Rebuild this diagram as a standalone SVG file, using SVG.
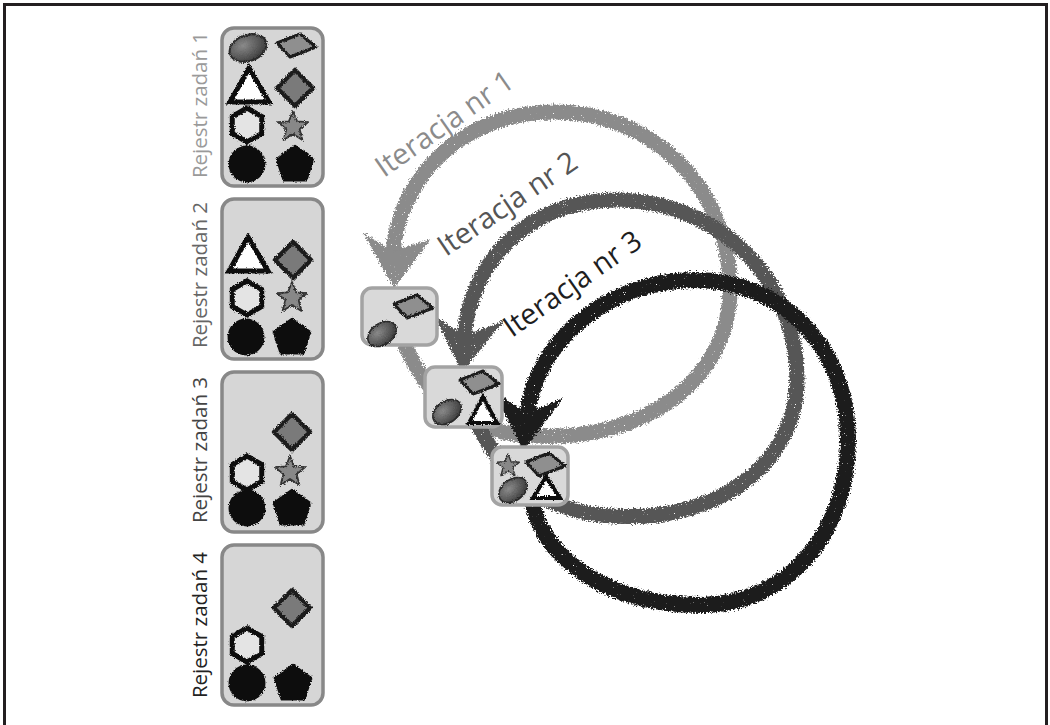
<svg xmlns="http://www.w3.org/2000/svg" width="1050" height="725" viewBox="0 0 1050 725">
<style>
.frame{fill:none;stroke:#231f20;stroke-width:3}
.bigbox{fill:#d6d6d6;stroke:#888;stroke-width:3.5}
.smallbox{fill:#d9d9d9;stroke:#a3a3a3;stroke-width:3.5}
.lbl{font-family:"Open Sans","Liberation Sans",sans-serif;font-size:20.5px;text-anchor:middle}
.it{font-family:"Open Sans","Liberation Sans",sans-serif;font-size:29px}
.arc{fill:none;stroke-linecap:round}
</style>
<defs>
<filter id="rough" filterUnits="userSpaceOnUse" x="0" y="0" width="1050" height="725">
<feTurbulence type="fractalNoise" baseFrequency="0.9" numOctaves="2" seed="3" result="n"/>
<feDisplacementMap in="SourceGraphic" in2="n" scale="3.5" xChannelSelector="R" yChannelSelector="G"/>
</filter>
<filter id="chalk" filterUnits="userSpaceOnUse" x="0" y="0" width="1050" height="725">
<feTurbulence type="fractalNoise" baseFrequency="0.6" numOctaves="2" seed="7" result="n"/>
<feDisplacementMap in="SourceGraphic" in2="n" scale="7" xChannelSelector="R" yChannelSelector="G" result="d"/>
<feTurbulence type="fractalNoise" baseFrequency="1.1" numOctaves="1" seed="2" result="n2"/>
<feColorMatrix in="n2" type="matrix" values="0 0 0 0 0  0 0 0 0 0  0 0 0 0 0  14 0 0 0 -3.0" result="mask"/>
<feComposite in="d" in2="mask" operator="in"/>
</filter>
<radialGradient id="gEll" cx="0.4" cy="0.35" r="0.7">
<stop offset="0" stop-color="#8a8a8a"/><stop offset="1" stop-color="#3a3a3a"/>
</radialGradient>
<g id="s-ell"><ellipse rx="19" ry="13" transform="rotate(-20)" fill="url(#gEll)" stroke="#2a2a2a" stroke-width="2"/></g>
<g id="s-rh"><polygon points="-19,-2 4,-11 20,2 -6,12" fill="#8f8f8f" stroke="#1e1e1e" stroke-width="3" stroke-linejoin="round"/></g>
<g id="s-tri"><polygon points="0,-20 -19,14 20,14" fill="#fff" stroke="#111" stroke-width="5" stroke-linejoin="miter"/></g>
<g id="s-dia"><polygon points="0,-18 18,0 0,18 -18,0" fill="#7a7a7a" stroke="#1a1a1a" stroke-width="4.5" stroke-linejoin="round"/></g>
<g id="s-hex"><polygon points="0,-17 14.7,-8.5 14.7,8.5 0,17 -14.7,8.5 -14.7,-8.5" fill="#e4e4e4" stroke="#111" stroke-width="5"/></g>
<g id="s-star"><polygon points="0,-16 4.11,-5.66 15.22,-4.94 6.66,2.16 9.4,12.94 0,7 -9.4,12.94 -6.66,2.16 -15.22,-4.94 -4.11,-5.66" fill="#888" stroke="#333" stroke-width="1.8" stroke-linejoin="round"/></g>
<g id="s-cir"><circle r="18.5" fill="#111"/></g>
<g id="s-pent"><polygon points="0,-19 18.07,-5.87 11.17,15.37 -11.17,15.37 -18.07,-5.87" fill="#111" stroke="#111" stroke-width="2.5" stroke-linejoin="round"/></g>
</defs>

<rect class="frame" x="4.5" y="4.5" width="1042" height="740"/>

<g id="register1">
<rect class="bigbox" x="222" y="28" width="101" height="158" rx="12"/>
<g filter="url(#rough)">
<use href="#s-ell" transform="translate(248,48)"/>
<use href="#s-rh" transform="translate(296,45)"/>
<use href="#s-tri" transform="translate(249,88)"/>
<use href="#s-dia" transform="translate(295,88)"/>
<use href="#s-hex" transform="translate(247,125)"/>
<use href="#s-star" transform="translate(293,127)"/>
<use href="#s-cir" transform="translate(247,164)"/>
<use href="#s-pent" transform="translate(295,165)"/>
</g>
<text class="lbl" fill="#9a9a9a" transform="translate(207,105) rotate(-90)">Rejestr zadań 1</text>
</g>

<g id="register2">
<rect class="bigbox" x="222" y="199" width="101" height="160" rx="12"/>
<g filter="url(#rough)">
<use href="#s-tri" transform="translate(248,257)"/>
<use href="#s-dia" transform="translate(293,260)"/>
<use href="#s-hex" transform="translate(247,298)"/>
<use href="#s-star" transform="translate(292,298)"/>
<use href="#s-cir" transform="translate(246,337)"/>
<use href="#s-pent" transform="translate(292,338)"/>
</g>
<text class="lbl" fill="#666" transform="translate(207,275) rotate(-90)">Rejestr zadań 2</text>
</g>

<g id="register3">
<rect class="bigbox" x="222" y="372" width="101" height="160" rx="12"/>
<g filter="url(#rough)">
<use href="#s-dia" transform="translate(292,432)"/>
<use href="#s-hex" transform="translate(247,473)"/>
<use href="#s-star" transform="translate(290,472)"/>
<use href="#s-cir" transform="translate(247,508)"/>
<use href="#s-pent" transform="translate(292,509)"/>
</g>
<text class="lbl" fill="#444" transform="translate(207,450) rotate(-90)">Rejestr zadań 3</text>
</g>

<g id="register4">
<rect class="bigbox" x="222" y="545" width="101" height="160" rx="12"/>
<g filter="url(#rough)">
<use href="#s-dia" transform="translate(292,608)"/>
<use href="#s-hex" transform="translate(247,645)"/>
<use href="#s-cir" transform="translate(247,683)"/>
<use href="#s-pent" transform="translate(293,684)"/>
</g>
<text class="lbl" fill="#222" transform="translate(207,625) rotate(-90)">Rejestr zadań 4</text>
</g>

<g id="connectors">
<g filter="url(#chalk)">
<path class="arc" stroke="#8b8b8b" stroke-width="15" d="M 405 345 C 425 392, 465 434, 535 436 C 645 442, 731 378, 730 288 C 729 185, 650 112, 555 112 C 460 112, 398 180, 393 254"/>
<polygon fill="#8b8b8b" points="394,288 363,233 393,251 431,239"/>
<path class="arc" stroke="#575757" stroke-width="15" d="M 478 425 C 500 470, 532 506, 600 515 C 720 528, 797 460, 797 380 C 797 280, 720 200, 615 200 C 530 200, 470 260, 464 338"/>
<polygon fill="#575757" points="462,372 434,315 465,336 505,320"/>
<path class="arc" stroke="#1e1e1e" stroke-width="16" d="M 533 505 C 545 560, 610 605, 700 605 C 790 605, 848 530, 848 440 C 848 345, 780 280, 695 280 C 610 280, 535 340, 527 416"/>
<polygon fill="#1e1e1e" points="523,451 494,392 527,413 563,398"/>
</g>
<text class="it" fill="#8b8b8b" transform="translate(384,178) rotate(-35)">Iteracja nr 1</text>
<text class="it" fill="#555" transform="translate(446,257) rotate(-34)">Iteracja nr 2</text>
<text class="it" fill="#1e1e1e" transform="translate(512,338) rotate(-35)">Iteracja nr 3</text>
</g>

<g id="iteration1">
<rect class="smallbox" x="362" y="288" width="75" height="57" rx="10"/>
<g filter="url(#rough)">
<use href="#s-rh" transform="translate(413,306)"/>
<use href="#s-ell" transform="translate(382,334) rotate(-15) scale(0.82)"/>
</g>
</g>

<g id="iteration2">
<rect class="smallbox" x="425" y="367" width="77" height="60" rx="10"/>
<g filter="url(#rough)">
<use href="#s-rh" transform="translate(479,382)"/>
<use href="#s-ell" transform="translate(447,412) rotate(-15) scale(0.82)"/>
<polygon points="483,397 469,423 497,423" fill="#fff" stroke="#111" stroke-width="4"/>
</g>
</g>

<g id="iteration3">
<rect class="smallbox" x="492" y="447" width="76" height="58" rx="10"/>
<g filter="url(#rough)">
<use href="#s-star" transform="translate(508,466) scale(0.75)"/>
<use href="#s-rh" transform="translate(545,464)"/>
<use href="#s-ell" transform="translate(513,490) rotate(-15) scale(0.82)"/>
<polygon points="546,477 533,498 560,498" fill="#fff" stroke="#111" stroke-width="4"/>
</g>
</g>
</svg>
